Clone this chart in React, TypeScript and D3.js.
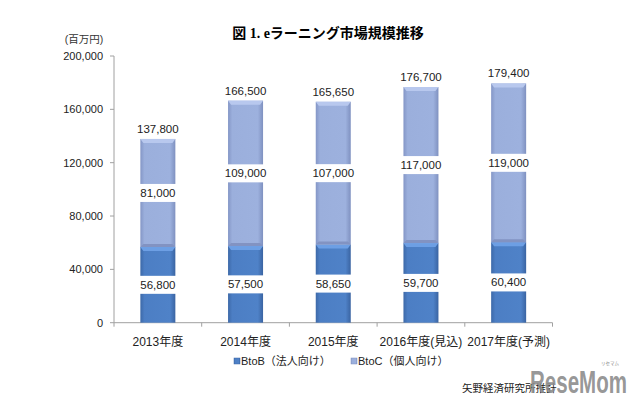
import React from "react";
import * as d3 from "d3";

const categories = ["2013年度", "2014年度", "2015年度", "2016年度(見込)", "2017年度(予測)"];
const btobValues = [56800, 57500, 58650, 59700, 60400];
const btocValues = [81000, 109000, 107000, 117000, 119000];
const totalValues = [137800, 166500, 165650, 176700, 179400];
const yTickValues = [0, 40000, 80000, 120000, 160000, 200000];
const legendLabels = ["BtoB（法人向け）", "BtoC（個人向け）"];

const W = 640;
const H = 401;
const LAT = "'Liberation Sans', 'Noto Sans CJK JP', sans-serif";

export default function App() {
  const x = d3.scaleBand<string>().domain(categories).range([114, 552.5]).padding(0);
  const y = d3.scaleLinear().domain([0, 200000]).range([322.7, 56]);
  const fmt = d3.format(",");
  const barW = 35;
  const labelBox = (cx: number, cy: number, text: string) => {
    const w = Math.max(barW + 2, text.length * 6.2 + 4);
    return <rect x={cx - w / 2} y={cy - 9} width={w} height={18} fill="#fff" />;
  };

  return (
    <svg width={W} height={H} style={{ position: "absolute", left: 0, top: 0, background: "#fff" }}>
      <defs>
        <linearGradient id="gB" x1="0" x2="1" y1="0" y2="0">
          <stop offset="0" stopColor="#3d69a8" />
          <stop offset="0.12" stopColor="#4c7ec4" />
          <stop offset="0.85" stopColor="#4f82c8" />
          <stop offset="1" stopColor="#3a64a2" />
        </linearGradient>
        <linearGradient id="gC" x1="0" x2="1" y1="0" y2="0">
          <stop offset="0" stopColor="#8496c6" />
          <stop offset="0.12" stopColor="#9bafdc" />
          <stop offset="0.85" stopColor="#9db1de" />
          <stop offset="1" stopColor="#7f91c0" />
        </linearGradient>
      </defs>

      {/* title */}
      <text x={328} y={33} textAnchor="middle" dominantBaseline="central"
        fontFamily="'Liberation Serif', 'Noto Sans CJK JP', serif" fontWeight="bold" fontSize={14} fill="#000">
        図 1. eラーニング市場規模推移
      </text>
      <text x={84} y={39} textAnchor="middle" dominantBaseline="central" fontFamily={LAT} fontSize={10.5} fill="#333">
        (百万円)
      </text>

      {/* y axis */}
      <line x1={114} x2={114} y1={y(200000)} y2={y(0)} stroke="#a0a0a0" />
      {yTickValues.map((t) => (
        <g key={t}>
          <line x1={110} x2={114} y1={y(t)} y2={y(t)} stroke="#a0a0a0" />
          <text x={103} y={y(t)} textAnchor="end" dominantBaseline="central" fontFamily={LAT} fontSize={11} fill="#222">
            {fmt(t)}
          </text>
        </g>
      ))}

      {/* x axis */}
      <line x1={114} x2={552.5} y1={y(0)} y2={y(0)} stroke="#a0a0a0" />
      {categories.map((c, i) => (
        <line key={"t" + c} x1={x(c)! + x.bandwidth()} x2={x(c)! + x.bandwidth()} y1={y(0)} y2={y(0) + 4} stroke="#a0a0a0" />
      ))}
      <line x1={114} x2={114} y1={y(0)} y2={y(0) + 4} stroke="#a0a0a0" />
      {categories.map((c) => (
        <text key={"l" + c} x={x(c)! + x.bandwidth() / 2} y={342} textAnchor="middle" dominantBaseline="central"
          fontFamily={LAT} fontSize={12} fill="#222">
          {c}
        </text>
      ))}

      {/* bars */}
      {categories.map((c, i) => {
        const cx = x(c)! + x.bandwidth() / 2;
        const x0 = cx - barW / 2;
        const yB = y(btobValues[i]);
        const yT = y(btobValues[i] + btocValues[i]);
        const y0 = y(0);
        return (
          <g key={"b" + c}>
            <rect x={x0} y={yB} width={barW} height={y0 - yB} fill="url(#gB)" />
            <path d={`M${x0},${yB} L${x0 + barW},${yB} L${x0 + barW - 3},${yB + 4} L${x0 + 3},${yB + 4} Z`} fill="#6d9fe4" />
            <rect x={x0} y={yT} width={barW} height={yB - yT} fill="url(#gC)" />
            <path d={`M${x0},${yT} L${x0 + barW},${yT} L${x0 + barW - 3},${yT + 4} L${x0 + 3},${yT + 4} Z`} fill="#b8c8ee" />
            <path d={`M${x0},${yB} L${x0 + barW},${yB} L${x0 + barW - 3},${yB - 3} L${x0 + 3},${yB - 3} Z`} fill="#8293c2" />
          </g>
        );
      })}

      {/* labels */}
      {categories.map((c, i) => {
        const cx = x(c)! + x.bandwidth() / 2;
        const cyB = y(btobValues[i] / 2);
        const cyC = y(btobValues[i] + btocValues[i] / 2);
        const cyT = y(totalValues[i]) - 10;
        const items = [
          { cy: cyB, t: fmt(btobValues[i]) },
          { cy: cyC, t: fmt(btocValues[i]) },
        ];
        return (
          <g key={"v" + c}>
            {items.map((it, k) => (
              <g key={k}>
                {labelBox(cx, it.cy, it.t)}
                <text x={cx} y={it.cy} textAnchor="middle" dominantBaseline="central" fontFamily={LAT} fontSize={11.5} fill="#222">
                  {it.t}
                </text>
              </g>
            ))}
            <text x={cx} y={cyT} textAnchor="middle" dominantBaseline="central" fontFamily={LAT} fontSize={11.5} fill="#222">
              {fmt(totalValues[i])}
            </text>
          </g>
        );
      })}

      {/* legend */}
      {legendLabels.map((l, i) => {
        const lx = [234, 351][i];
        return (
          <g key={l}>
            <rect x={lx} y={358} width={6} height={6} fill={i === 0 ? "url(#gB)" : "url(#gC)"} stroke={i === 0 ? "#3d69a8" : "#7f91c0"} strokeWidth={0.5} />
            <text x={lx + 7} y={361} dominantBaseline="central" fontFamily={LAT} fontSize={11} fill="#222">
              {l}
            </text>
          </g>
        );
      })}

      {/* source */}
      <text x={462} y={388} dominantBaseline="central" fontFamily={LAT} fontSize={10.5} fill="#222">
        矢野経済研究所推計
      </text>
      {/* watermark */}
      <text x={530} y={393} fontFamily="'Liberation Sans Narrow', 'Liberation Sans', sans-serif" fontWeight="bold"
        fontSize={31} fill="#8a8a8a" fillOpacity={0.9} textLength={97} lengthAdjust="spacingAndGlyphs">
        ReseMom
      </text>
      <text x={610} y={365} textAnchor="middle" fontFamily="'Noto Sans CJK JP', sans-serif" fontSize={4.5} fill="#8a8a8a">
        リセマム
      </text>
    </svg>
  );
}
